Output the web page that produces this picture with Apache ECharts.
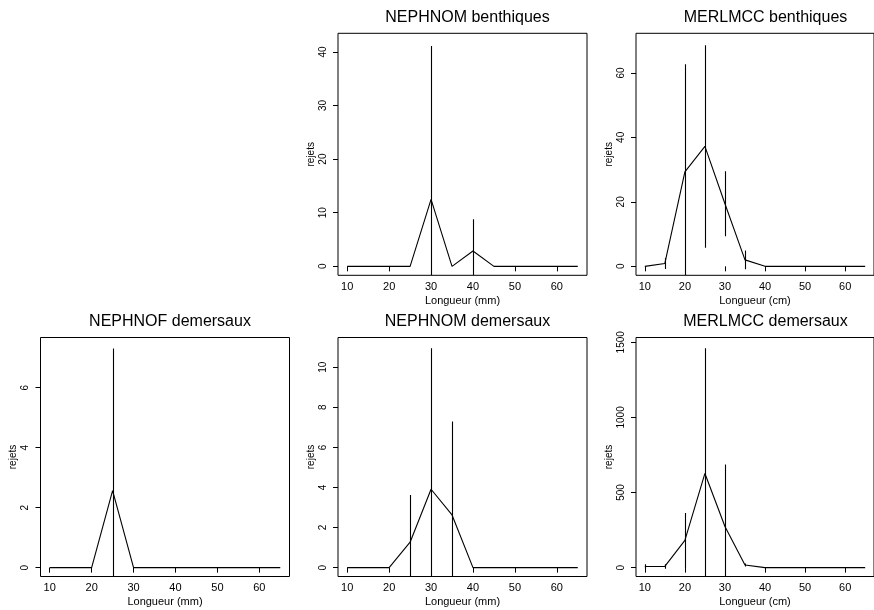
<!DOCTYPE html>
<html>
<head>
<meta charset="utf-8">
<script src="https://cdn.jsdelivr.net/npm/echarts@6/dist/echarts.min.js"></script>
<style>
html,body{margin:0;padding:0;background:#fff;}
#chart{width:874px;height:610px;}
</style>
</head>
<body>
<div id="chart"></div>
<script>
// ---- data ----
const lengths = [10,15,20,25,30,35,40,45,50,55,60,65];
const xTickLabels = [10,20,30,40,50,60];

const titles = ["NEPHNOM benthiques","MERLMCC benthiques","NEPHNOF demersaux","NEPHNOM demersaux","MERLMCC demersaux"];
const xNames = ["Longueur (mm)","Longueur (cm)","Longueur (mm)","Longueur (mm)","Longueur (cm)"];

const nephnomBenthMean = [0,0,0,0,12.5,0,2.86,0,0,0,0,0];
const nephnomBenthLow  = [null,null,null,null,-16.1,null,-3.1,null,null,null,null,null];
const nephnomBenthHigh = [null,null,null,null,41.1,null,8.8,null,null,null,null,null];

const merlBenthMean = [0,0.9,29.3,37.2,19.4,2.0,0,0,0,0,0,0];
const merlBenthLow  = [null,-0.8,-4.1,5.8,9.3,-0.9,null,null,null,null,null,null];
const merlBenthHigh = [null,2.6,62.7,68.6,29.5,4.9,null,null,null,null,null,null];

const nephnofDemMean = [0,0,0,2.57,0,0,0,0,0,0,0,0];
const nephnofDemLow  = [null,null,null,-2.17,null,null,null,null,null,null,null,null];
const nephnofDemHigh = [null,null,null,7.31,null,null,null,null,null,null,null,null];

const nephnomDemMean = [0,0,0,1.27,3.91,2.63,0,0,0,0,0,0];
const nephnomDemLow  = [null,null,null,-1.09,-3.13,-2.03,null,null,null,null,null,null];
const nephnomDemHigh = [null,null,null,3.63,10.95,7.29,null,null,null,null,null,null];

const merlDemMean = [8,8,181,627,274,18,0,0,0,0,0,0];
const merlDemLow  = [-7,-7,-2,-207,-139,8,null,null,null,null,null,null];
const merlDemHigh = [23,23,364,1461,687,28,null,null,null,null,null,null];

const yTicks1 = [0,10,20,30,40];
const yTicks2 = [0,20,40,60];
const yTicks3 = [0,2,4,6];
const yTicks4 = [0,2,4,6,8,10];
const yTicks5 = [0,500,1000,1500];

const yTop = [41.8, 69.5, 7.38, 11.04, 1473];
// ---- end data ----

const panels = [
  {mean:nephnomBenthMean, low:nephnomBenthLow, high:nephnomBenthHigh, yt:yTicks1},
  {mean:merlBenthMean, low:merlBenthLow, high:merlBenthHigh, yt:yTicks2},
  {mean:nephnofDemMean, low:nephnofDemLow, high:nephnofDemHigh, yt:yTicks3},
  {mean:nephnomDemMean, low:nephnomDemLow, high:nephnomDemHigh, yt:yTicks4},
  {mean:merlDemMean, low:merlDemLow, high:merlDemHigh, yt:yTicks5}
];
const layout = [
  {left:338, top:33.3, width:249, height:242},
  {left:636, top:33.3, width:249, height:242},
  {left:40.5, top:337.5, width:249, height:239},
  {left:338, top:337.5, width:249, height:239},
  {left:636, top:337.5, width:249, height:239}
];

const FONT = "'Liberation Sans', Arial, Helvetica, sans-serif";
const xMin = 10 - 0.04*55, xMax = 65 + 0.04*55;

const grid = [], xAxis = [], yAxis = [], series = [], title = [];
panels.forEach((p, i) => {
  const L = layout[i];
  grid.push({left:L.left, top:L.top, width:L.width, height:L.height, show:true, borderColor:'#000', borderWidth:1, backgroundColor:'#fff', containLabel:false});
  title.push({text:titles[i], left:L.left + L.width/2, top:L.top - 29, textAlign:'center',
    textStyle:{fontFamily:FONT, fontSize:16, fontWeight:'normal', color:'#000'}});
  xAxis.push({type:'value', gridIndex:i, min:xMin, max:xMax,
    axisLine:{show:false}, splitLine:{show:false},
    axisTick:{show:true, length:5, lineStyle:{color:'#000'}, customValues:xTickLabels},
    axisLabel:{fontFamily:FONT, fontSize:11, color:'#000', margin:6, customValues:xTickLabels},
    name:xNames[i], nameLocation:'middle', nameGap:20,
    nameTextStyle:{fontFamily:FONT, fontSize:11, color:'#000'}});
  yAxis.push({type:'value', gridIndex:i, min:-0.04*yTop[i], max:1.04*yTop[i],
    axisLine:{show:false}, splitLine:{show:false},
    axisTick:{show:true, length:5, lineStyle:{color:'#000'}, customValues:p.yt},
    axisLabel:{fontFamily:FONT, fontSize:10, color:'#000', rotate:90, margin:10, customValues:p.yt,
      formatter:function(v){ return String(v); }},
    name:'rejets', nameLocation:'middle', nameGap:22, nameRotate:90,
    nameTextStyle:{fontFamily:FONT, fontSize:10, color:'#000'}});
  series.push({type:'line', xAxisIndex:i, yAxisIndex:i, showSymbol:false, silent:true,
    data: lengths.map((x,k)=>[x, p.mean[k]]), clip:true,
    lineStyle:{color:'#000', width:1.1}});
  const eb = [];
  lengths.forEach((x,k)=>{ if (p.low[k] !== null) eb.push([x, p.low[k], p.high[k]]); });
  series.push({type:'custom', xAxisIndex:i, yAxisIndex:i, silent:true, clip:true, data:eb,
    renderItem:function(params, api){
      const cs = params.coordSys;
      const a = api.coord([api.value(0), api.value(1)]);
      const b = api.coord([api.value(0), api.value(2)]);
      const y1 = Math.min(Math.max(a[1], cs.y), cs.y + cs.height);
      const y2 = Math.min(Math.max(b[1], cs.y), cs.y + cs.height);
      return {type:'line', shape:{x1:Math.round(a[0])+0.5, y1:y1, x2:Math.round(b[0])+0.5, y2:y2},
        style:{stroke:'#000', lineWidth:1.1}};
    }});
});

const chart = echarts.init(document.getElementById('chart'), null, {renderer:'canvas'});
chart.setOption({animation:false, backgroundColor:'#fff', title, grid, xAxis, yAxis, series});
</script>
</body>
</html>
